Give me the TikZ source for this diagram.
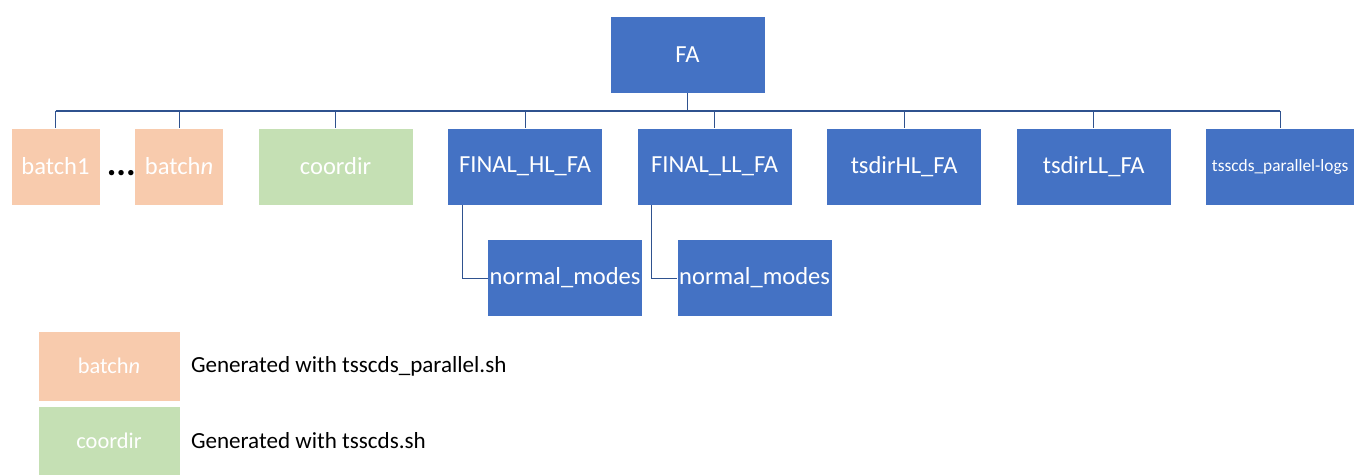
\documentclass[tikz,border=0pt]{standalone}
\usepackage{fontspec}
\setmainfont{Carlito}
\usepackage{tikz}
\usetikzlibrary{positioning,calc}
\definecolor{folderblue}{HTML}{4472C4}
\definecolor{batchpeach}{HTML}{F8CBAD}
\definecolor{coordgreen}{HTML}{C5E0B4}
\definecolor{linkblue}{HTML}{2F528F}

\begin{document}
\begin{tikzpicture}[
		x=0.75pt, y=-0.75pt,
		every text node part/.style={align=center},
		node distance=25.9pt,
		every node/.style={inner sep=0pt, outer sep=0pt},
		folder/.style={fill=folderblue, draw=white, line width=0.4pt, text=white,
			minimum width=116.25pt, minimum height=57.75pt,
			font=\fontsize{18.4}{22}\selectfont},
		batch/.style={folder, fill=batchpeach, minimum width=66.75pt},
		coord/.style={folder, fill=coordgreen},
		legend/.style={folder, minimum width=106.5pt, minimum height=52.5pt,
			font=\fontsize{16.8}{20}\selectfont},
		tree/.style={draw=linkblue, line width=0.8pt}
	]
	\useasboundingbox (0,0) rectangle (1356,475);
	
	% root
	\node(FA)[folder] at (687.5,54.5) {FA};
	
	% first level
	\node(batch1)[batch] at (55.5,166.5) {batch1};
	\node(batchn)[batch, right=of batch1] {batch\textit{n}};
	\node(coordir)[coord, right=of batchn] {coordir};
	\node(hlfa)[folder, right=of coordir] {FINAL\_HL\_FA};
	\node(llfa)[folder, right=of hlfa] {FINAL\_LL\_FA};
	\node(tshl)[folder, right=of llfa] {tsdirHL\_FA};
	\node(tsll)[folder, right=of tshl] {tsdirLL\_FA};
	\node(logs)[folder, right=of tsll, minimum width=111.75pt,
		font=\fontsize{13}{15}\selectfont] {tsscds\_parallel-logs};
	\node(dots)[anchor=base, xshift=3pt, yshift=-0.5pt, font=\bfseries\fontsize{27}{30}\selectfont]
		at ($(batch1.base east)!0.5!(batchn.base west)$) {...};
	
	% second level
	\node(hlnormal)[folder, below=of hlfa, xshift=30pt] {normal\_modes};
	\node(llnormal)[folder, below=of llfa, xshift=30pt] {normal\_modes};
	
	% connectors
	\coordinate(bus) at ($(FA.south)+(0,18)$);
	\draw[tree] (FA.south) -- (bus);
	\draw[tree] (batch1.north |- bus) -- (logs.north |- bus);
	\foreach \child in {batch1,batchn,coordir,hlfa,llfa,tshl,tsll,logs}
		\draw[tree] (\child.north |- bus) -- (\child.north);
	\draw[tree] ([xshift=11pt]hlfa.south west) |- (hlnormal.west);
	\draw[tree] ([xshift=11pt]llfa.south west) |- (llnormal.west);
	
	% legend
	\node(legbatch)[legend, fill=batchpeach] at (109,366) {batch\textit{n}};
	\node(legcoord)[legend, fill=coordgreen, minimum height=51.75pt,
		below=3.75pt of legbatch] {coordir};
	\node(legbatchtext)[right=8.25pt of legbatch, font=\fontsize{17.3}{20}\selectfont]
		{Generated with tsscds\_parallel.sh};
	\node(legcoordtext)[right=8.25pt of legcoord, font=\fontsize{17.3}{20}\selectfont]
		{Generated with tsscds.sh};
\end{tikzpicture}
\end{document}
